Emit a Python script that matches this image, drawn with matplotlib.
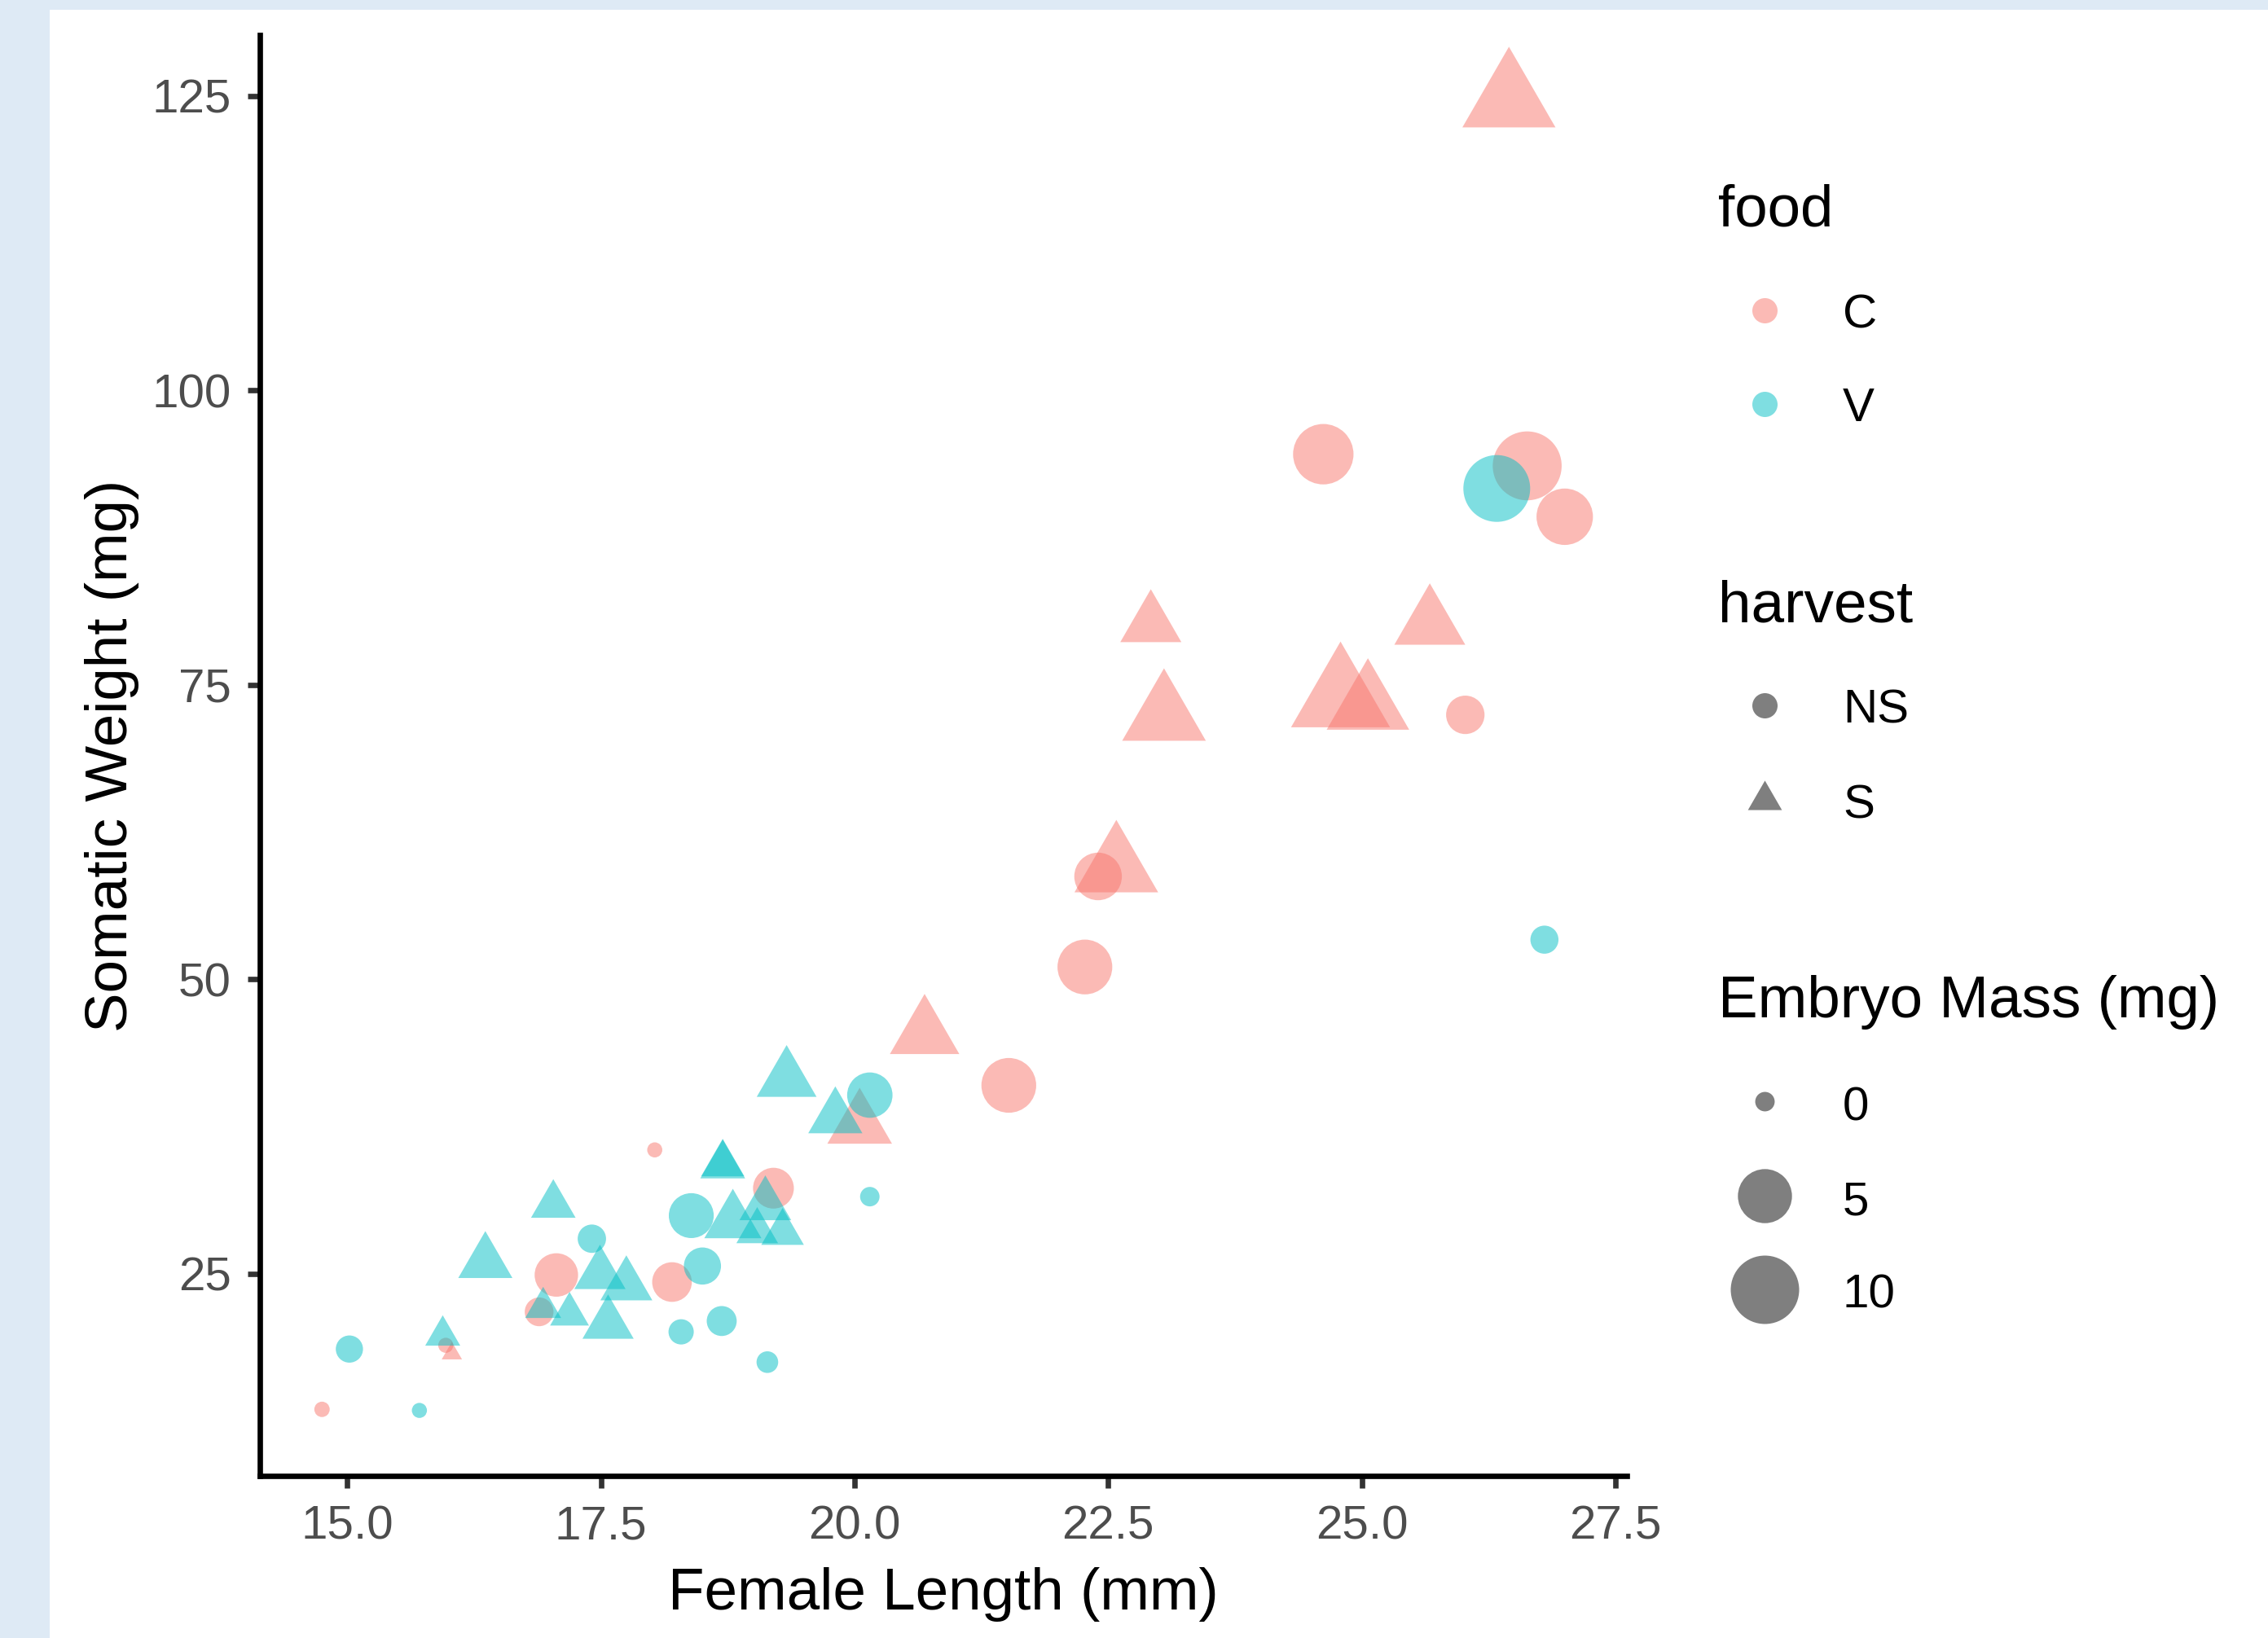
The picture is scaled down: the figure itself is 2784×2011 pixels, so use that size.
import numpy as np
import matplotlib
matplotlib.use("Agg")
import matplotlib.pyplot as plt
from matplotlib.path import Path
from matplotlib.patches import Rectangle

plt.rcParams['font.family'] = ['Liberation Sans', 'DejaVu Sans']

# female length (mm), somatic weight (mg), embryo mass (mg), food, harvest
length = [24.62, 26.63, 27.00, 26.02, 22.40, 22.27, 21.52, 18.03, 19.20, 17.06, 18.20, 16.89, 15.97, 14.75,
          26.45, 22.92, 25.67, 23.05, 24.79, 25.06, 22.58, 20.69, 20.05, 16.03,
          26.33, 26.80, 20.15, 20.15, 18.39, 17.41, 18.50, 18.69, 18.29, 15.02, 19.14, 15.71,
          19.33, 19.81, 18.70, 18.70, 19.12, 17.03, 18.80, 19.04, 19.29, 16.36, 17.49, 17.75, 16.93, 17.19, 17.57, 15.94]
weight = [94.57, 93.58, 89.26, 72.44, 58.72, 51.03, 40.98, 35.50, 32.25, 24.88, 24.28, 21.75, 18.91, 13.47,
          124.6, 80.11, 80.13, 72.29, 73.81, 73.20, 59.42, 45.34, 37.61, 18.21,
          91.66, 53.35, 40.15, 31.53, 29.92, 27.96, 25.64, 20.97, 20.05, 18.59, 17.48, 13.38,
          41.47, 38.24, 34.32, 34.18, 30.80, 30.83, 29.40, 28.60, 28.48, 25.95, 24.94, 24.00, 22.11, 21.54, 20.72, 19.74]
embryo = [7.0, 10.2, 5.7, 1.5, 3.3, 5.2, 5.2, -0.08, 1.9, 2.4, 1.7, 0.36, -0.08, -0.07,
          10.3, 2.8, 4.6, 7.6, 12.2, 7.3, 7.6, 4.3, 3.4, -0.08,
          9.35, 0.31, 2.8, 0.0, 2.7, 0.33, 1.3, 0.46, 0.14, 0.25, 0.02, -0.08,
          2.6, 1.8, 0.67, 0.8, 1.5, 0.78, 2.2, 0.55, 0.62, 1.8, 1.44, 1.53, 0.22, 0.37, 1.44, 0.18]
food = ["C"] * 24 + ["V"] * 28
harvest = ["NS"] * 14 + ["S"] * 10 + ["NS"] * 12 + ["S"] * 16

food_levels = ["C", "V"]
harvest_levels = ["NS", "S"]
size_breaks = [0, 5, 10]
colors = {"C": "#F8766D", "V": "#00BFC4"}

W, H, DPI = 2784, 2011, 200
PT = 72 / DPI


def diam_px(m):
    m = np.asarray(m, dtype=float)
    return 23.9 + 19.0 * np.sign(m) * np.sqrt(np.abs(m))


# triangle with its centroid at the origin (like R's pch 17)
tri = Path([(0, 1), (-0.866, -0.5), (0.866, -0.5), (0, 1)],
           [Path.MOVETO, Path.LINETO, Path.LINETO, Path.CLOSEPOLY])
shapes = {"NS": ("o", 1.0), "S": (tri, 1.555)}

fig = plt.figure(figsize=(W / DPI, H / DPI), dpi=DPI, facecolor="#DEEAF5")
fig.patches.append(Rectangle((61 / W, 0), 1 - 61 / W, 1 - 12 / H, transform=fig.transFigure,
                             facecolor="white", edgecolor="none", zorder=-10))

ax = fig.add_axes([319 / W, 1 - 1812 / H, (1997 - 319) / W, (1812 - 43) / H])
ax.set_facecolor("none")

x = np.array(length)
y = np.array(weight)
m = np.array(embryo)
f = np.array(food)
h = np.array(harvest)
for fl in food_levels:
    for hl in harvest_levels:
        sel = (f == fl) & (h == hl)
        mk, k = shapes[hl]
        s = (k * diam_px(m[sel]) * PT) ** 2
        ax.scatter(x[sel], y[sel], s=s, marker=mk, color=colors[fl], alpha=0.5, linewidths=0)

xr = x.max() - x.min()
yr = y.max() - y.min()
ax.set_xlim(x.min() - 0.05 * xr, x.max() + 0.05 * xr)
ax.set_ylim(y.min() - 0.05 * yr, y.max() + 0.05 * yr)
ax.set_xticks([15, 17.5, 20, 22.5, 25, 27.5])
ax.set_xticklabels(["15.0", "17.5", "20.0", "22.5", "25.0", "27.5"])
ax.set_yticks([25, 50, 75, 100, 125])

for side in ["top", "right"]:
    ax.spines[side].set_visible(False)
for side in ["left", "bottom"]:
    ax.spines[side].set_linewidth(2.4)
    ax.spines[side].set_color("black")
ax.tick_params(length=15 * PT, width=2.4, color="#333333", labelsize=21,
               labelcolor="#4D4D4D", pad=7.2)

ax.set_xlabel("Female Length (mm)", fontsize=26.25)
ax.xaxis.label.set_va("baseline")
ax.xaxis.set_label_coords(0.5, -164 / 1769)
ax.set_ylabel("Somatic Weight (mg)", fontsize=26.25)
ax.yaxis.label.set_va("baseline")
ax.yaxis.set_label_coords((156 - 319) / 1678, 0.5)

# legends
lax = fig.add_axes([0, 0, 1, 1])
lax.set_xlim(0, W)
lax.set_ylim(H, 0)
lax.axis("off")

KX, LX, TX = 2166, 2262, 2109
KEY_D = 31
lax.text(TX, 277, "food", fontsize=26.25, va="baseline")
for lvl, ky, ly in zip(food_levels, [381, 496], [402, 517]):
    lax.scatter([KX], [ky], s=(KEY_D * PT) ** 2, marker="o", color=colors[lvl], alpha=0.5, linewidths=0)
    lax.text(LX, ly, lvl, fontsize=21, va="baseline")

lax.text(TX, 763, "harvest", fontsize=26.25, va="baseline")
for lvl, ky, ly in zip(harvest_levels, [866, 981.6], [888, 1004]):
    mk, k = shapes[lvl]
    lax.scatter([KX], [ky], s=(k * KEY_D * PT) ** 2, marker=mk, color="black", alpha=0.5, linewidths=0)
    lax.text(LX, ly, lvl, fontsize=21, va="baseline")

lax.text(TX, 1249, "Embryo Mass (mg)", fontsize=26.25, va="baseline")
for b, ky, ly in zip(size_breaks, [1352, 1468, 1583], [1375, 1491, 1605]):
    lax.scatter([KX], [ky], s=(diam_px(b) * PT) ** 2, marker="o", color="black", alpha=0.5, linewidths=0)
    lax.text(LX, ly, str(b), fontsize=21, va="baseline")

fig.savefig("out.png", dpi=DPI)
